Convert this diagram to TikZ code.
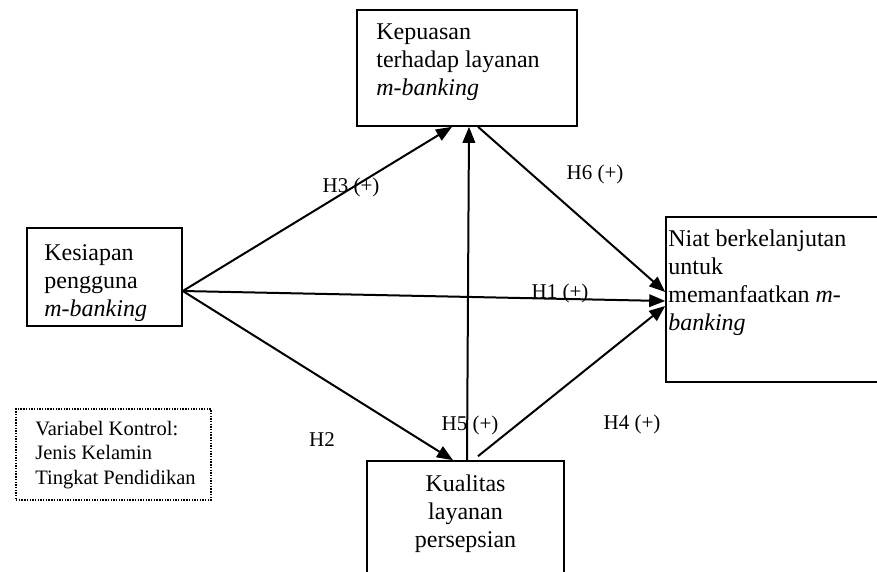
\documentclass[tikz,border=0pt]{standalone}
\usepackage{fontspec}
\setmainfont{Liberation Serif}
\usetikzlibrary{arrows.meta}
\usetikzlibrary{calc}

\begin{document}
\begin{tikzpicture}[x=1pt,y=-1pt,
	box/.style={draw, line width=1.6pt, inner sep=0pt},
	txt/.style={inner sep=0pt, align=left, font=\fontsize{24}{28}\selectfont},
	kontrol/.style={draw, dash pattern=on 1.4pt off 1.3pt, line width=1.8pt, inner sep=0pt},
	rel/.style={line width=2pt, -{Triangle[length=16pt,width=12.5pt]}},
	hyp/.style={inner sep=0pt, font=\fontsize{21}{24}\selectfont}]
\useasboundingbox (0,0) rectangle (877,571);
\clip (0,0) rectangle (877,571);

%\draw[very thin,color=lightgray] (0,0) grid[step=50] (877,571);

% kotak variabel
\node[box, minimum width=220pt, minimum height=116pt] (kep) at (467,68) {};
\node[box, minimum width=155pt, minimum height=98pt] (kes) at (104.5,277) {};
\node[box, minimum width=234pt, minimum height=165pt] (niat) at (783,299.5) {};
\node[box, minimum width=197pt, minimum height=159pt] (kua) at (465.5,540.5) {};
\node[kontrol, minimum width=195pt, minimum height=91pt] (kon) at (113.5,454.5) {};

\node[txt, anchor=north west] (kep-t) at ($(kep.north west)+(20,14.8)$) {Kepuasan\\terhadap layanan\\\textit{m-banking}};
\node[txt, anchor=north west] (kes-t) at ($(kes.north west)+(18,17)$) {Kesiapan\\pengguna\\\textit{m-banking}};
\node[txt, anchor=north west] (niat-t) at ($(niat.north west)+(3,13.6)$) {Niat berkelanjutan\\untuk\\memanfaatkan \textit{m-}\\\textit{banking}};
\node[txt, anchor=north, align=center] (kua-t) at ($(kua.north)+(0,14.6)$) {Kualitas\\layanan\\persepsian};
\node[txt, anchor=north west, font=\fontsize{20.5}{24.5}\selectfont] (kon-t) at ($(kon.north west)+(20,12.7)$) {Variabel Kontrol:\\Jenis Kelamin\\Tingkat Pendidikan};

% hubungan
\coordinate (o) at ($(kes.east)+(0,14)$);
\draw[rel] (o) -- ($(kep.south)+(-15,0)$);
\draw[rel] (o) -- ($(niat.west)+(0,1.5)$);
\draw[rel] (o) -- ($(kua.north)+(-12.5,0)$);
\draw[rel] ($(kua.north)+(1.5,0)$) -- ($(kep.south)+(2,0)$);
\draw[rel] ($(kep.south)+(11,0)$) -- ($(niat.west)+(0,-7.5)$);
\draw[rel] ($(kua.north)+(12.5,-4)$) -- ($(niat.west)+(0,6.5)$);

\node[hyp] (h3) at (351,187) {H3 (+)};
\node[hyp] (h6) at (595,174) {H6 (+)};
\node[hyp] (h1) at (560,293) {H1 (+)};
\node[hyp] (h2) at (322,440) {H2};
\node[hyp] (h5) at (470,425) {H5 (+)};
\node[hyp] (h4) at (632,424) {H4 (+)};

\end{tikzpicture}
\end{document}
